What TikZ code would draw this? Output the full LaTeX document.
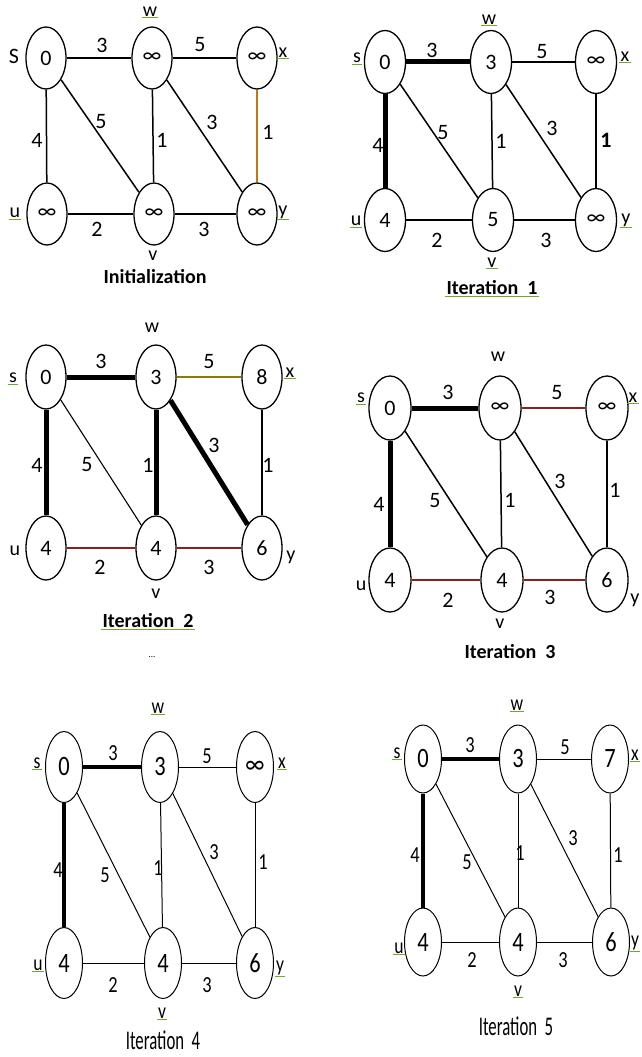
\documentclass[tikz,border=0pt]{standalone}
\usepackage{fontspec}
\setmainfont{Carlito}
\newfontfamily\narrowA[FakeStretch=0.62]{Carlito}
\newfontfamily\narrowB[FakeStretch=0.8]{Carlito}
\usetikzlibrary{shapes.geometric}
\definecolor{ulgreen}{RGB}{110,170,40}
\definecolor{edbrown}{RGB}{190,120,20}
\definecolor{edolive}{RGB}{140,125,0}
\definecolor{edred}{RGB}{140,30,30}
\tikzset{
  vtx/.style={draw, ellipse, line width=1.3pt, inner sep=0pt, minimum width=40pt, minimum height=62pt, font=\fontsize{22}{24}\selectfont},
  nvtx/.style={vtx, line width=1pt, minimum width=37pt, minimum height=71pt, font=\narrowB\fontsize{28}{30}\selectfont},
  ed/.style={line width=1.5pt},
  ned/.style={line width=1pt},
  tree/.style={line width=5pt},
  ntree/.style={line width=4.5pt},
  wt/.style={inner sep=0pt, font=\fontsize{22}{24}\selectfont},
  nwt/.style={inner sep=0pt, font=\narrowB\fontsize{23}{25}\selectfont},
  nm/.style={inner sep=1pt, font=\fontsize{20}{22}\selectfont},
  nnm/.style={inner sep=1pt, font=\narrowB\fontsize{22}{24}\selectfont},
  ulline/.style={draw=ulgreen, line width=1pt},
  ul/.style={append after command={(\tikzlastnode.south west) edge[ulline] (\tikzlastnode.south east)}},
  ttl/.style={inner sep=1pt, font=\bfseries\fontsize{20}{22}\selectfont},
  nttl/.style={inner sep=0pt, font=\narrowA\fontsize{27}{29}\selectfont},
}
\begin{document}
\begin{tikzpicture}[x=1pt,y=-1pt]
\useasboundingbox (0,0) rectangle (641,1057);
\fill[white] (0,0) rectangle (641,1057);

% ---------- Panel A: Initialization
\node[vtx] (As) at (46,58) {0};
\node[vtx] (Aw) at (152,58) {∞};
\node[vtx] (Ax) at (257,58) {∞};
\node[vtx] (Au) at (47,214) {∞};
\node[vtx] (Av) at (154,214) {∞};
\node[vtx] (Ay) at (257,214) {∞};
\draw[ed] (As) -- (Aw);
\draw[ed] (Aw) -- (Ax);
\draw[ed] (As) -- (Au);
\draw[ed] (As) -- (Av);
\draw[ed] (Aw) -- (Av);
\draw[ed] (Aw) -- (Ay);
\draw[ed, edbrown] (Ax) -- (Ay);
\draw[ed] (Au) -- (Av);
\draw[ed] (Av) -- (Ay);
\node[wt] (Al1) at (102,45) {3};
\node[wt] (Al2) at (200,45) {5};
\node[wt] (Al3) at (37,140) {4};
\node[wt] (Al4) at (101,122) {5};
\node[wt] (Al5) at (162,140) {1};
\node[wt] (Al6) at (212,122) {3};
\node[wt] (Al7) at (268,132) {1};
\node[wt] (Al8) at (97,229) {2};
\node[wt] (Al9) at (204,229) {3};
\node[nm, font=\fontsize{22}{24}\selectfont] (An1) at (14,56) {S};
\node[nm, ul] (An2) at (150,12) {w};
\node[nm, ul] (An3) at (283,53) {x};
\node[nm, ul] (An4) at (15,213) {u};
\node[nm] (An5) at (153,256) {v};
\node[nm, ul] (An6) at (283,212) {y};
\node[ttl] (At) at (155,277) {Initialization};

% ---------- Panel B: Iteration 1
\node[vtx, minimum width=41pt, minimum height=63pt] (Bs) at (385,62) {0};
\node[vtx, minimum width=41pt, minimum height=63pt] (Bw) at (491,62) {3};
\node[vtx, minimum width=41pt, minimum height=63pt] (Bx) at (596,62) {∞};
\node[vtx, minimum width=41pt, minimum height=63pt] (Bu) at (385,220) {4};
\node[vtx, minimum width=41pt, minimum height=63pt] (Bv) at (493,220) {5};
\node[vtx, minimum width=41pt, minimum height=63pt] (By) at (596,220) {∞};
\draw[tree] (Bs) -- (Bw);
\draw[ed] (Bw) -- (Bx);
\draw[tree] (Bs) -- (Bu);
\draw[ed] (Bs) -- (Bv);
\draw[ed] (Bw) -- (Bv);
\draw[ed] (Bw) -- (By);
\draw[ed] (Bx) -- (By);
\draw[ed] (Bu) -- (Bv);
\draw[ed] (Bv) -- (By);
\node[wt] (Bl1) at (432,50) {3};
\node[wt] (Bl2) at (542,52) {5};
\node[wt] (Bl3) at (378,145) {4};
\node[wt] (Bl4) at (443,133) {5};
\node[wt] (Bl5) at (501,141) {1};
\node[wt] (Bl6) at (552,128) {3};
\node[wt, font=\bfseries\fontsize{22}{24}\selectfont] (Bl7) at (606,140) {1};
\node[wt] (Bl8) at (437,240) {2};
\node[wt] (Bl9) at (546,240) {3};
\node[nm, ul] (Bn1) at (357,58) {s};
\node[nm, ul] (Bn2) at (489,20) {w};
\node[nm, ul] (Bn3) at (625,57) {x};
\node[nm, ul] (Bn4) at (356,221) {u};
\node[nm, ul] (Bn5) at (492,263) {v};
\node[nm, ul] (Bn6) at (626,220) {y};
\node[ttl, ul] (Bt) at (492,288) {Iteration\ \ 1};

% ---------- Panel C: Iteration 2
\node[vtx, minimum height=64pt] (Cs) at (46,377) {0};
\node[vtx, minimum height=64pt] (Cw) at (156,377) {3};
\node[vtx, minimum height=64pt] (Cx) at (262,377) {8};
\node[vtx, minimum height=64pt] (Cu) at (46,548) {4};
\node[vtx, minimum height=64pt] (Cv) at (156,548) {4};
\node[vtx, minimum height=64pt] (Cy) at (262,548) {6};
\draw[tree] (Cs) -- (Cw);
\draw[ed, edolive, line width=1.2pt] (Cw) -- (Cx);
\draw[tree] (Cs) -- (Cu);
\draw[ed, line width=1.1pt] (Cs) -- (Cv);
\draw[tree] (Cw) -- (Cv);
\draw[tree] (Cw) -- (Cy);
\draw[ed, line width=1.1pt] (Cx) -- (Cy);
\draw[ed, edred, line width=1.3pt] (Cu) -- (Cv);
\draw[ed, edred, line width=1.3pt] (Cv) -- (Cy);
\node[wt] (Cl1) at (101,361) {3};
\node[wt] (Cl2) at (209,362) {5};
\node[wt] (Cl3) at (37,465) {4};
\node[wt] (Cl4) at (87,465) {5};
\node[wt] (Cl5) at (148,465) {1};
\node[wt] (Cl6) at (214,445) {3};
\node[wt] (Cl7) at (268,465) {1};
\node[wt] (Cl8) at (100,567) {2};
\node[wt] (Cl9) at (209,567) {3};
\node[nm, ul] (Cn1) at (13,378) {s};
\node[nm] (Cn2) at (152,328) {w};
\node[nm, ul] (Cn3) at (290,373) {x};
\node[nm] (Cn4) at (15,551) {u};
\node[nm] (Cn5) at (156,594) {v};
\node[nm] (Cn6) at (291,557) {y};
\node[ttl, ul] (Ct) at (148,621) {Iteration\ \ 2};
\node[inner sep=0pt, font=\fontsize{9}{10}\selectfont] (Cd) at (152,657) {...};

% ---------- Panel D: Iteration 3
\node[vtx, minimum width=42pt, minimum height=64pt] (Ds) at (390,408) {0};
\node[vtx, minimum width=42pt, minimum height=64pt] (Dw) at (500,408) {∞};
\node[vtx, minimum width=42pt, minimum height=64pt] (Dx) at (607,408) {∞};
\node[vtx, minimum width=42pt, minimum height=64pt] (Du) at (390,580) {4};
\node[vtx, minimum width=42pt, minimum height=64pt] (Dv) at (502,580) {4};
\node[vtx, minimum width=42pt, minimum height=64pt] (Dy) at (607,580) {6};
\draw[tree] (Ds) -- (Dw);
\draw[ed, edred, line width=1.3pt] (Dw) -- (Dx);
\draw[tree] (Ds) -- (Du);
\draw[ed] (Ds) -- (Dv);
\draw[ed] (Dw) -- (Dv);
\draw[ed] (Dw) -- (Dy);
\draw[ed] (Dx) -- (Dy);
\draw[ed, edred, line width=1.3pt] (Du) -- (Dv);
\draw[ed, edred, line width=1.3pt] (Dv) -- (Dy);
\node[wt] (Dl1) at (448,392) {3};
\node[wt] (Dl2) at (557,393) {5};
\node[wt] (Dl3) at (379,504) {4};
\node[wt] (Dl4) at (435,501) {5};
\node[wt] (Dl5) at (510,500) {1};
\node[wt] (Dl6) at (560,481) {3};
\node[wt] (Dl7) at (615,490) {1};
\node[wt] (Dl8) at (448,600) {2};
\node[wt] (Dl9) at (550,597) {3};
\node[nm, ul] (Dn1) at (361,398) {s};
\node[nm] (Dn2) at (498,357) {w};
\node[nm, ul] (Dn3) at (633,398) {x};
\node[nm] (Dn4) at (361,586) {u};
\node[nm] (Dn5) at (500,624) {v};
\node[nm] (Dn6) at (635,600) {y};
\node[ttl] (Dt) at (510,652) {Iteration\ \ 3};

% ---------- Panel E: Iteration 4
\node[nvtx] (Es) at (64,767) {0};
\node[nvtx] (Ew) at (160,767) {3};
\node[nvtx] (Ex) at (255,767) {∞};
\node[nvtx] (Eu) at (64,963) {4};
\node[nvtx] (Ev) at (163,963) {4};
\node[nvtx] (Ey) at (255,963) {6};
\draw[ntree] (Es) -- (Ew);
\draw[ned] (Ew) -- (Ex);
\draw[ntree] (Es) -- (Eu);
\draw[ned] (Es) -- (Ev);
\draw[ned] (Ew) -- (Ev);
\draw[ned] (Ew) -- (Ey);
\draw[ned] (Ex) -- (Ey);
\draw[ned] (Eu) -- (Ev);
\draw[ned] (Ev) -- (Ey);
\node[nwt] (El1) at (113,753) {3};
\node[nwt] (El2) at (207,756) {5};
\node[nwt] (El3) at (58,870) {4};
\node[nwt] (El4) at (105,875) {5};
\node[nwt] (El5) at (158,868) {1};
\node[nwt] (El6) at (214,852) {3};
\node[nwt] (El7) at (263,862) {1};
\node[nwt] (El8) at (113,985) {2};
\node[nwt] (El9) at (207,985) {3};
\node[nnm, ul] (En1) at (37,763) {s};
\node[nnm, ul] (En2) at (158,708) {w};
\node[nnm, ul] (En3) at (282,763) {x};
\node[nnm, ul] (En4) at (38,965) {u};
\node[nnm, ul] (En5) at (162,1013) {v};
\node[nnm, ul] (En6) at (280,968) {y};
\node[nttl] (Et) at (163,1040) {Iteration\ \ 4};

% ---------- Panel F: Iteration 5
\node[nvtx, minimum height=68pt] (Fs) at (423,759) {0};
\node[nvtx, minimum height=68pt] (Fw) at (518,759) {3};
\node[nvtx, minimum height=68pt] (Fx) at (610,759) {7};
\node[nvtx, minimum height=68pt] (Fu) at (423,942) {4};
\node[nvtx, minimum height=68pt] (Fv) at (518,942) {4};
\node[nvtx, minimum height=68pt] (Fy) at (611,942) {6};
\draw[ntree] (Fs) -- (Fw);
\draw[ned] (Fw) -- (Fx);
\draw[ntree] (Fs) -- (Fu);
\draw[ned] (Fs) -- (Fv);
\draw[ned] (Fw) -- (Fv);
\draw[ned] (Fw) -- (Fy);
\draw[ned] (Fx) -- (Fy);
\draw[ned] (Fu) -- (Fv);
\draw[ned] (Fv) -- (Fy);
\node[nwt] (Fl1) at (470,745) {3};
\node[nwt] (Fl2) at (565,747) {5};
\node[nwt] (Fl3) at (415,855) {4};
\node[nwt] (Fl4) at (467,862) {5};
\node[nwt] (Fl5) at (520,853) {1};
\node[nwt] (Fl6) at (573,838) {3};
\node[nwt] (Fl7) at (618,855) {1};
\node[nwt] (Fl8) at (472,960) {2};
\node[nwt] (Fl9) at (563,960) {3};
\node[nnm, ul] (Fn1) at (397,753) {s};
\node[nnm, ul] (Fn2) at (517,705) {w};
\node[nnm, ul] (Fn3) at (635,755) {x};
\node[nnm, ul] (Fn4) at (399,948) {u};
\node[nnm, ul] (Fn5) at (518,991) {v};
\node[nnm, ul] (Fn6) at (635,943) {y};
\node[nttl] (Ft) at (516,1026) {Iteration\ \ 5};
\end{tikzpicture}
\end{document}
